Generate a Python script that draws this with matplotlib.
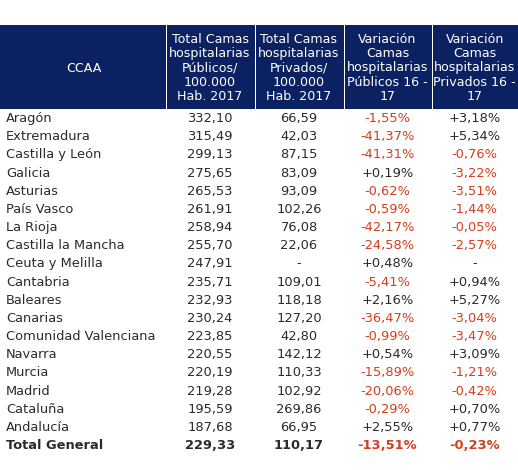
import matplotlib
matplotlib.use("Agg")
import matplotlib.pyplot as plt
from matplotlib.patches import Rectangle

regions = ["Aragón", "Extremadura", "Castilla y León", "Galicia", "Asturias",
           "País Vasco", "La Rioja", "Castilla la Mancha", "Ceuta y Melilla",
           "Cantabria", "Baleares", "Canarias", "Comunidad Valenciana", "Navarra",
           "Murcia", "Madrid", "Cataluña", "Andalucía", "Total General"]
publicos = [332.10, 315.49, 299.13, 275.65, 265.53, 261.91, 258.94, 255.70, 247.91,
            235.71, 232.93, 230.24, 223.85, 220.55, 220.19, 219.28, 195.59, 187.68, 229.33]
privados = [66.59, 42.03, 87.15, 83.09, 93.09, 102.26, 76.08, 22.06, None,
            109.01, 118.18, 127.20, 42.80, 142.12, 110.33, 102.92, 269.86, 66.95, 110.17]
var_pub = [-1.55, -41.37, -41.31, 0.19, -0.62, -0.59, -42.17, -24.58, 0.48,
           -5.41, 2.16, -36.47, -0.99, 0.54, -15.89, -20.06, -0.29, 2.55, -13.51]
var_priv = [3.18, 5.34, -0.76, -3.22, -3.51, -1.44, -0.05, -2.57, None,
            0.94, 5.27, -3.04, -3.47, 3.09, -1.21, -0.42, 0.70, 0.77, -0.23]
headers = ["CCAA",
           "Total Camas\nhospitalarias\nPúblicos/\n100.000\nHab. 2017",
           "Total Camas\nhospitalarias\nPrivados/\n100.000\nHab. 2017",
           "Variación\nCamas\nhospitalarias\nPúblicos 16 -\n17",
           "Variación\nCamas\nhospitalarias\nPrivados 16 -\n17"]

W, H = 518, 470
fig = plt.figure(figsize=(W/100, H/100), dpi=100)
ax = fig.add_axes([0, 0, 1, 1])
ax.set_xlim(0, W)
ax.set_ylim(H, 0)
ax.axis("off")

FONT = "DejaVu Sans"
NAVY = "#0b2161"
RED = "#d43f1d"
DARK = "#2b2b2b"

col_edges = [0, 165.5, 254.5, 343.5, 431.5, 518]
head_top, head_bot = 25, 109
for i in range(5):
    ax.add_patch(Rectangle((col_edges[i] + (0 if i == 0 else 1), head_top),
                           col_edges[i+1] - col_edges[i] - (0 if i == 0 else 1),
                           head_bot - head_top, color=NAVY, lw=0))
    cx = (col_edges[i] + col_edges[i+1]) / 2
    ax.text(cx + (0 if i else 1), (head_top + head_bot) / 2 + 1, headers[i],
            ha="center", va="center", color="white", fontsize=9.1,
            family=FONT, linespacing=1.14)

def fnum(v):
    if v is None:
        return "-"
    return f"{v:.2f}".replace(".", ",")

def fpct(v):
    if v is None:
        return "-"
    s = f"{v:+.2f}".replace(".", ",")
    return s + "%"

row0, step = 118.5, 18.17
centers = [(col_edges[i] + col_edges[i+1]) / 2 for i in range(5)]
for r, name in enumerate(regions):
    y = row0 + r * step
    last = r == len(regions) - 1
    fw = "bold" if last else "normal"
    kw = dict(va="center", fontsize=9.4, family=FONT, fontweight=fw)
    ax.text(6, y, name, ha="left", color=DARK, **kw)
    ax.text(centers[1], y, fnum(publicos[r]), ha="center", color=DARK, **kw)
    ax.text(centers[2], y, fnum(privados[r]), ha="center", color=DARK, **kw)
    for c, vals in ((3, var_pub), (4, var_priv)):
        v = vals[r]
        col = RED if (v is not None and v < 0) else DARK
        ax.text(centers[c], y, fpct(v), ha="center", color=col, **kw)

fig.savefig("out.png", dpi=100, facecolor="white")
